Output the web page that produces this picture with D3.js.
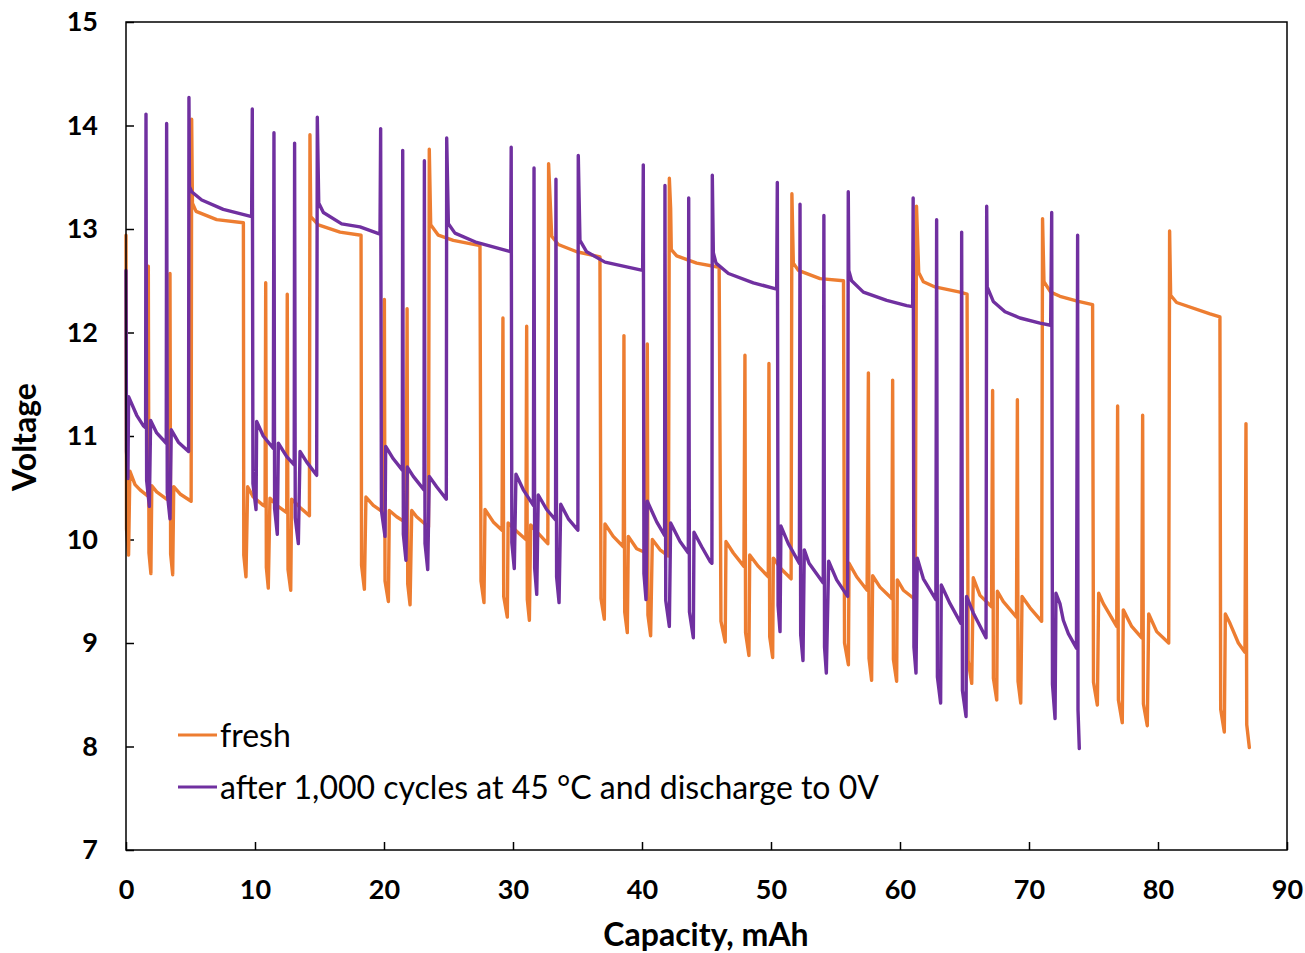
<!DOCTYPE html>
<html><head><meta charset="utf-8">
<script src="https://cdn.jsdelivr.net/npm/d3@7"></script>
<style>
body{margin:0;background:#fff}
text{font-family:Lato,"Open Sans",sans-serif}
</style>
</head><body>
<svg id="chart" width="1305" height="953"></svg>
<script>
const xTicks = [0,10,20,30,40,50,60,70,80,90];
const yTicks = [7,8,9,10,11,12,13,14,15];
const seriesNames = ["fresh", "after 1,000 cycles at 45 °C and discharge to 0V"];
const xTitle = "Capacity, mAh";
const yTitle = "Voltage";

// fresh cell: [capacity mAh, voltage V]
const freshCurve = [
[0,12.94],[0.04,10.1],[0.2,9.85],[0.3,10.66],
[0.7,10.53],[1.09,10.48],[1.68,10.42],
[1.73,12.64],[1.78,9.87],[1.93,9.67],[2.0,10.52],
[2.38,10.46],[3.15,10.39],[3.37,10.38],
[3.41,12.57],[3.46,9.86],[3.62,9.66],[3.7,10.51],
[4.19,10.44],[5.05,10.37],
[5.09,14.06],[5.15,13.25],[5.43,13.17],[7.03,13.09],[9.1,13.06],
[9.13,9.85],[9.3,9.64],[9.43,10.51],
[9.87,10.41],[10.64,10.33],[10.78,10.32],
[10.83,12.48],[10.88,9.73],[11.03,9.53],[11.16,10.4],
[11.68,10.33],[12.46,10.26],
[12.5,12.37],[12.56,9.71],[12.77,9.51],[12.84,10.39],
[13.49,10.31],[14.22,10.23],
[14.26,13.91],[14.32,13.12],[14.91,13.04],[16.59,12.97],[18.22,12.94],
[18.26,9.75],[18.48,9.52],[18.6,10.41],
[19.17,10.33],[19.97,10.26],
[20.03,12.32],[20.08,9.6],[20.34,9.4],[20.41,10.28],
[20.98,10.22],[21.72,10.16],
[21.79,12.23],[21.84,9.57],[22.02,9.37],[22.15,10.28],
[22.53,10.22],[23.45,10.12],
[23.51,13.77],[23.62,13.04],[24.21,12.94],[25.37,12.89],[27.44,12.84],
[27.52,9.6],[27.75,9.39],[27.83,10.29],
[28.47,10.17],[29.15,10.09],
[29.22,12.14],[29.28,9.45],[29.56,9.25],[29.62,10.16],
[30.28,10.08],[31.0,10.0],
[31.06,12.06],[31.11,9.42],[31.27,9.22],[31.37,10.14],
[31.96,10.06],[32.7,9.96],
[32.76,13.63],[33.0,12.93],[33.51,12.85],[34.94,12.78],[36.74,12.73],
[36.82,9.43],[37.08,9.23],[37.13,10.15],
[37.77,10.03],[38.55,9.93],
[38.6,11.97],[38.66,9.3],[38.86,9.1],[38.94,10.03],
[39.59,9.91],[40.33,9.87],
[40.41,11.89],[40.46,9.27],[40.67,9.07],[40.8,10.0],
[41.4,9.9],[42.05,9.84],
[42.12,13.49],[42.22,13.2],[42.27,12.8],[42.69,12.74],[44.24,12.67],[45.98,12.63],
[46.12,9.21],[46.45,9.01],[46.51,9.98],
[47.08,9.87],[47.9,9.74],
[47.98,11.78],[48.03,9.1],[48.29,8.88],[48.35,9.85],
[49.02,9.74],[49.79,9.64],
[49.84,11.7],[49.9,9.06],[50.13,8.86],[50.18,9.82],
[50.83,9.71],[51.56,9.62],
[51.62,13.34],[51.73,12.67],[52.12,12.6],[53.8,12.52],[55.62,12.5],
[55.7,9.0],[56.0,8.79],[56.05,9.77],
[56.64,9.64],[57.45,9.51],
[57.55,11.61],[57.6,8.85],[57.8,8.64],[57.88,9.65],
[58.45,9.54],[59.36,9.43],
[59.43,11.54],[59.49,8.84],[59.74,8.63],[59.79,9.61],
[60.26,9.51],[61.18,9.42],
[61.28,13.22],[61.45,12.58],[61.81,12.49],[62.71,12.44],[64.65,12.39],[65.2,12.37],
[65.28,8.83],[65.56,8.61],[65.68,9.63],
[66.2,9.46],[67.1,9.35],
[67.18,11.44],[67.24,8.66],[67.5,8.45],[67.55,9.5],
[68.01,9.4],[69.03,9.25],
[69.1,11.35],[69.15,8.63],[69.36,8.42],[69.46,9.45],
[70.08,9.34],[70.98,9.21],
[71.05,13.1],[71.16,12.49],[71.68,12.39],[72.4,12.35],[73.82,12.3],[74.93,12.27],
[75.0,8.62],[75.3,8.4],[75.4,9.48],
[75.76,9.38],[76.8,9.16],
[76.87,11.29],[76.93,8.45],[77.23,8.23],[77.31,9.32],
[77.96,9.16],[78.74,9.05],
[78.81,11.2],[78.87,8.41],[79.17,8.2],[79.28,9.28],
[79.9,9.11],[80.83,9.0],
[80.9,12.98],[80.98,12.36],[81.44,12.29],[84.03,12.18],[84.8,12.15],
[84.86,8.36],[85.14,8.14],[85.22,9.28],
[85.58,9.19],[86.23,9.0],[86.74,8.91],
[86.82,11.12],[86.88,8.21],[87.08,7.99]
];

// aged cell: [capacity mAh, voltage V]
const agedCurve = [
[0,12.6],[0.04,10.85],[0.15,10.59],[0.2,11.38],
[0.83,11.2],[1.34,11.1],[1.52,11.08],
[1.55,14.11],[1.6,10.57],[1.81,10.32],[1.91,11.15],
[2.38,11.03],[3.12,10.93],
[3.15,14.02],[3.2,10.45],[3.41,10.2],[3.51,11.06],
[4.06,10.94],[4.85,10.85],
[4.88,14.27],[4.92,13.41],[5.09,13.36],[5.87,13.28],[7.54,13.19],[9.74,13.12],
[9.79,14.16],[9.84,10.54],[10.08,10.29],[10.13,11.14],
[10.64,11.0],[11.42,10.88],
[11.47,13.93],[11.52,10.3],[11.73,10.05],[11.81,10.93],
[12.46,10.8],[13.04,10.72],
[13.07,13.83],[13.12,10.21],[13.36,9.96],[13.49,10.85],
[14.0,10.75],[14.78,10.62],
[14.83,14.08],[14.94,13.25],[15.3,13.16],[16.72,13.05],[18.14,13.02],[19.69,12.95],
[19.74,13.97],[19.8,10.28],[20.08,10.03],[20.13,10.9],
[20.72,10.78],[21.42,10.67],
[21.45,13.76],[21.5,10.05],[21.7,9.8],[21.81,10.7],
[22.27,10.61],[23.1,10.48],
[23.13,13.66],[23.18,9.96],[23.39,9.71],[23.51,10.61],
[24.08,10.51],[24.83,10.39],
[24.86,13.88],[24.99,13.05],[25.5,12.96],[27.18,12.87],[29.82,12.78],
[29.86,13.79],[29.91,9.97],[30.1,9.72],[30.23,10.63],
[30.8,10.48],[31.58,10.33],
[31.63,13.59],[31.68,9.72],[31.84,9.47],[31.96,10.43],
[32.61,10.29],[33.3,10.19],
[33.33,13.48],[33.38,9.64],[33.57,9.39],[33.7,10.34],
[34.29,10.2],[35.03,10.09],
[35.06,13.71],[35.19,12.89],[35.71,12.78],[37.13,12.68],[40.05,12.6],
[40.1,13.62],[40.15,9.67],[40.31,9.42],[40.41,10.37],
[41.14,10.17],[41.75,10.04],
[41.78,13.42],[41.84,9.41],[42.12,9.16],[42.22,10.16],
[42.95,9.98],[43.59,9.87],
[43.62,13.3],[43.68,9.3],[43.98,9.05],[44.03,10.07],
[44.63,9.93],[45.27,9.79],[45.42,9.77],
[45.45,13.52],[45.53,12.77],[45.74,12.67],[46.7,12.57],[48.63,12.48],[50.44,12.42],
[50.49,13.45],[50.55,9.36],[50.7,9.11],[50.77,10.13],
[51.34,9.96],[52.2,9.77],
[52.25,13.24],[52.3,9.08],[52.48,8.83],[52.58,9.9],
[52.95,9.77],[54.05,9.58],
[54.1,13.13],[54.15,8.96],[54.29,8.71],[54.47,9.79],
[55.09,9.61],[55.94,9.45],
[55.99,13.36],[56.03,12.6],[56.25,12.5],[57.16,12.39],[58.97,12.31],[60.52,12.26],[60.98,12.25],
[61.02,13.3],[61.08,8.96],[61.24,8.71],[61.34,9.82],
[61.81,9.62],[62.78,9.42],
[62.84,13.09],[62.9,8.67],[63.15,8.42],[63.2,9.56],
[63.88,9.38],[64.72,9.19],
[64.78,12.97],[64.84,8.54],[65.12,8.29],[65.16,9.45],
[65.68,9.29],[66.67,9.05],
[66.72,13.22],[66.76,12.44],[67.23,12.3],[68.14,12.2],[69.3,12.14],[70.85,12.09],[71.68,12.07],
[71.76,13.16],[71.82,8.6],[72.02,8.27],[72.09,9.48],
[72.4,9.38],[72.66,9.22],[73.05,9.09],[73.68,8.95],
[73.77,12.94],[73.8,8.35],[73.9,7.98]
];

const seriesData = [freshCurve, agedCurve];
const seriesColors = ["#ED7D31", "#7030A0"];

const svg = d3.select("#chart");
const plot = {left:126, top:22, right:1287, bottom:850};
const x = d3.scaleLinear().domain([0,90]).range([plot.left, plot.right]);
const y = d3.scaleLinear().domain([7,15]).range([plot.bottom, plot.top]);

// axes
const xAxis = d3.axisBottom(x).tickValues(xTicks).tickSizeInner(-8).tickSizeOuter(0).tickPadding(30);
const yAxis = d3.axisLeft(y).tickValues(yTicks).tickSizeInner(-8).tickSizeOuter(0).tickPadding(28);

const gx = svg.append("g").attr("transform", `translate(0,${plot.bottom})`).call(xAxis);
const gy = svg.append("g").attr("transform", `translate(${plot.left},0)`).call(yAxis);
[gx, gy].forEach(g => {
  g.select(".domain").remove();
  g.selectAll(".tick line").attr("stroke", "#000").attr("stroke-width", 1.5);
  g.selectAll(".tick text").attr("fill", "#000").style("font-size", "27px").style("font-weight", "700");
});

// lines
const line = d3.line().x(d => x(d[0])).y(d => y(d[1]));
seriesData.forEach((data, i) => {
  svg.append("path").datum(data)
    .attr("d", line)
    .attr("fill", "none")
    .attr("stroke", seriesColors[i])
    .attr("stroke-width", 3.4)
    .attr("stroke-linejoin", "round")
    .attr("stroke-linecap", "round");
});

// frame
svg.append("rect")
  .attr("x", plot.left).attr("y", plot.top)
  .attr("width", plot.right - plot.left).attr("height", plot.bottom - plot.top)
  .attr("fill", "none").attr("stroke", "#000").attr("stroke-width", 1.5);

// axis titles
svg.append("text").attr("x", 706).attr("y", 946)
  .attr("text-anchor", "middle").style("font-size", "32px").style("font-weight", "700")
  .text(xTitle);
svg.append("text").attr("transform", "translate(36,437) rotate(-90)")
  .attr("text-anchor", "middle").style("font-size", "32px").style("font-weight", "700")
  .text(yTitle);

// legend
const legendY = [735, 787];
seriesNames.forEach((name, i) => {
  svg.append("line").attr("x1", 178).attr("x2", 217)
    .attr("y1", legendY[i]).attr("y2", legendY[i])
    .attr("stroke", seriesColors[i]).attr("stroke-width", 3);
  svg.append("text").attr("x", 220).attr("y", legendY[i]).attr("dy", "0.36em")
    .style("font-size", "32px").attr("fill", "#000").text(name);
});
</script>
</body></html>
